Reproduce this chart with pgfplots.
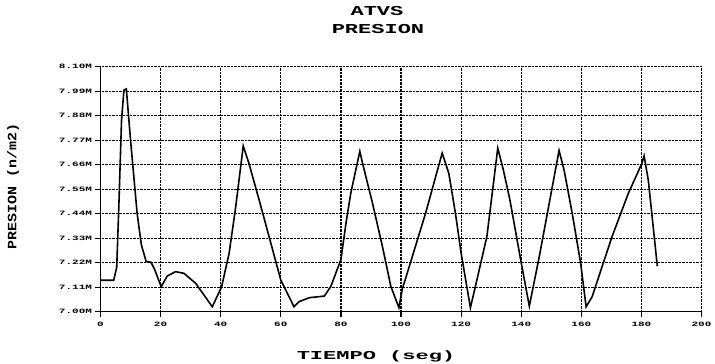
\documentclass[border=0pt]{standalone}
\usepackage{graphicx}
\usepackage{fontspec}
\setmainfont{Liberation Mono}
\usepackage{pgfplots}
\pgfplotsset{compat=1.18}
\newcommand{\sq}[2]{\scalebox{1}[#1]{#2}}
\begin{document}
\begin{tikzpicture}
\path[use as bounding box] (-100.5pt,-52.3pt) rectangle (614.5pt,311.7pt);
\begin{axis}[
  at={(0pt,0pt)}, anchor=south west,
  scale only axis, width=601pt, height=245pt,
  xmin=0, xmax=200, ymin=7.00, ymax=8.10,
  xtick={0,20,...,200},
  ytick={7.00,7.11,7.22,7.33,7.44,7.55,7.66,7.77,7.88,7.99,8.10},
  yticklabels={7.00M,7.11M,7.22M,7.33M,7.44M,7.55M,7.66M,7.77M,7.88M,7.99M,8.10M},
  xticklabels={0,20,40,60,80,100,120,140,160,180,200},
  xticklabel style={font=\fontsize{11}{11}\selectfont\bfseries, yscale=0.6, yshift=-6pt},
  yticklabel style={font=\fontsize{11}{11}\selectfont\bfseries, yscale=0.6},
  axis lines*=left,
  axis line style={line width=1.6pt},
  tick align=outside, major tick length=5pt,
  tick style={black, line width=1.2pt},
  grid=major,
  major grid style={densely dotted, black, line width=1.2pt},
  clip=false,
]
\addplot[black, line width=1.6pt] coordinates {
(0,7.141) (4.4,7.141) (5.4,7.20) (6.1,7.471) (7,7.86) (7.8,7.995) (8.6,8.0)
(10.0,7.77) (12.2,7.44) (13.6,7.30) (15.2,7.225) (16.8,7.222) (18.0,7.19) (20.2,7.112)
(22.2,7.16) (25,7.18) (27.8,7.172) (31.7,7.127) (37.2,7.022) (40.3,7.112)
(42.8,7.262) (45,7.471) (47.5,7.744) (49.4,7.666) (52.8,7.501) (56.1,7.337)
(60,7.142) (64.4,7.022) (66.1,7.045) (69.5,7.063) (74.5,7.07) (76.7,7.115)
(80,7.234) (81.7,7.398) (83.3,7.533) (86.3,7.72) (87.2,7.667) (90.5,7.488)
(93.8,7.294) (96.6,7.115) (99.3,7.018) (100.4,7.10) (103.8,7.249) (108.2,7.443)
(113.7,7.712) (115.9,7.622) (118.1,7.443) (120,7.264) (123.1,7.018) (125.3,7.145)
(128.6,7.339) (132.2,7.734) (134,7.64) (136.2,7.505) (140,7.22) (142.7,7.025)
(146,7.246) (149.3,7.485) (152.6,7.724) (154.3,7.634) (157,7.44) (159.8,7.216)
(161.6,7.022) (163.6,7.067) (170.2,7.336) (175.7,7.533) (180.1,7.664) (180.9,7.70)
(182.3,7.59) (185.3,7.204)
};
\end{axis}
\node[font=\fontsize{22}{22}\selectfont\bfseries] at (276.5pt,300.7pt) {\sq{0.62}{ATVS}};
\node[font=\fontsize{22}{22}\selectfont\bfseries] at (277.5pt,282.7pt) {\sq{0.62}{PRESION}};
\node[font=\fontsize{22}{22}\selectfont\bfseries] at (275.5pt,-44.3pt) {\sq{0.55}{TIEMPO (seg)}};
\node[font=\fontsize{15}{15}\selectfont\bfseries, rotate=90] at (-87.5pt,125.2pt) {\sq{0.85}{PRESION (n/m2)}};
\end{tikzpicture}
\end{document}
